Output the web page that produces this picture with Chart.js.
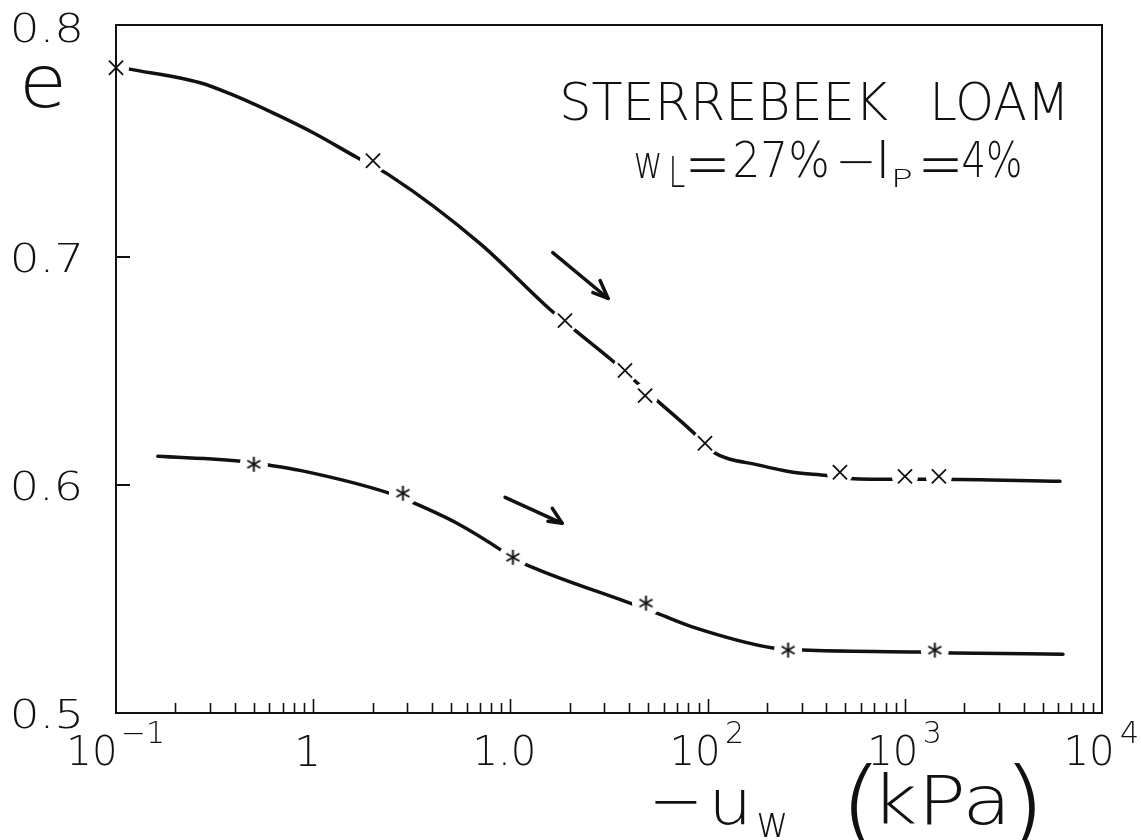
<!DOCTYPE html>
<html><head><meta charset="utf-8">
<script src="https://cdn.jsdelivr.net/npm/chart.js@4.4.1/dist/chart.umd.min.js"></script>
<style>html,body{margin:0;padding:0;background:#fff;}canvas{display:block;}</style>
</head><body>
<canvas id="c" width="1141" height="840"></canvas>
<script>
// ---- data ----
const upperCurveX = [0.115,0.267,0.378,0.625,1.0,1.67,2.45,7.02,15.9,21.3,32.7,45.4,55.3,84.3,105,185,271,403,527,925,1390,6120];
const upperCurveE = [0.7825,0.7764,0.7716,0.7632,0.7545,0.7436,0.7357,0.7059,0.6770,0.6678,0.6547,0.6437,0.6371,0.6231,0.6148,0.6086,0.6056,0.6042,0.6029,0.6025,0.6025,0.6016];
const upperMarkX = [0.1,2.01,18.9,38.1,48.2,97,469,1002,1489];
const upperMarkE = [0.783,0.7422,0.6721,0.6502,0.6392,0.6183,0.6056,0.6038,0.6038];

const lowerCurveX = [0.163,0.441,0.556,0.857,2.45,3.28,5.36,9.18,10.3,14.1,40.4,55.3,84.3,215,305,1194,1754,6340];
const lowerCurveE = [0.6126,0.6104,0.6091,0.6064,0.5963,0.5919,0.5832,0.5709,0.5679,0.5626,0.5482,0.5438,0.5377,0.5285,0.5276,0.5267,0.5263,0.5258];
const lowerMarkX = [0.50,2.85,10.3,48.7,256,1420];
const lowerMarkE = [0.6091,0.5964,0.5683,0.5482,0.5276,0.5276];

const arrow1X = [16.4,31.3];          const arrow1E = [0.7019,0.6818];
const arrow1HeadX = [28.5,31.3,26.2]; const arrow1HeadE = [0.6897,0.6818,0.6844];
const arrow2X = [9.40,18.3];          const arrow2E = [0.5946,0.5832];
const arrow2HeadX = [16.3,18.3,15.5]; const arrow2HeadE = [0.5898,0.5832,0.5841];

const xMin = 0.1, xMax = 10000, yMin = 0.5, yMax = 0.80175;
const xTickValues = [0.1,1,10,100,1000,10000];
const xTickBase = ['10','1','1.0','10','10','10'];
const xTickExp = ['\u22121','','','2','3','4'];
const yTickValues = [0.5,0.6,0.7,0.8];
const yTickLabels = ['0.5','0.6','0.7','0.8'];
const yInnerTicks = [0.6,0.7];
const yAxisTitle = 'e';
const xTitle = ['\u2212','u','w','(','kPa',')'];
const noteLine1 = ['STERREBEEK','LOAM'];
const noteLine2 = ['w','L','=','27%','\u2212','I','P','=','4%'];

// ---- helpers ----
const pts = (xs, ys) => xs.map((x, i) => ({x, y: ys[i]}));
const INK = '#111';
const F = '"DejaVu Sans", "Liberation Sans", sans-serif';
const WT = '200';

function asteriskImg(r, lw) {
  const c = document.createElement('canvas');
  const s = Math.ceil(2 * r + 4);
  c.width = s; c.height = s;
  const g = c.getContext('2d');
  g.strokeStyle = INK; g.lineWidth = lw; g.lineCap = 'butt';
  const cx = s / 2, cy = s / 2;
  [90, 30, 150].forEach(a => {
    const t = a * Math.PI / 180;
    g.beginPath();
    g.moveTo(cx - r * Math.cos(t), cy - r * Math.sin(t));
    g.lineTo(cx + r * Math.cos(t), cy + r * Math.sin(t));
    g.stroke();
  });
  return c;
}

function ink(ctx, s, size) {
  ctx.font = `${WT} ${size}px ${F}`;
  const m = ctx.measureText(s);
  return {l: m.actualBoundingBoxLeft, r: m.actualBoundingBoxRight, a: m.actualBoundingBoxAscent, d: m.actualBoundingBoxDescent};
}
function fitBox(ctx, s, x1, y1, x2, y2, size) {
  const m = ink(ctx, s, size);
  const sx = (x2 - x1) / (m.l + m.r), sy = (y2 - y1) / (m.a + m.d);
  ctx.save(); ctx.translate(x1 + m.l * sx, y1 + m.a * sy); ctx.scale(sx, sy);
  ctx.fillText(s, 0, 0); ctx.restore();
}
function fitH(ctx, s, x1, y1, y2, size) {
  const m = ink(ctx, s, size);
  const k = (y2 - y1) / (m.a + m.d);
  ctx.save(); ctx.translate(x1 + m.l * k, y1 + m.a * k); ctx.scale(k, k);
  ctx.fillText(s, 0, 0); ctx.restore();
  return (m.l + m.r) * k;
}
function widthH(ctx, s, y1, y2, size) {
  const m = ink(ctx, s, size);
  return (m.l + m.r) * (y2 - y1) / (m.a + m.d);
}
function fitWc(ctx, s, x1, x2, yc, size) {
  const m = ink(ctx, s, size);
  const k = (x2 - x1) / (m.l + m.r);
  ctx.save(); ctx.translate(x1 + m.l * k, yc + (m.a - m.d) / 2 * k); ctx.scale(k, k);
  ctx.fillText(s, 0, 0); ctx.restore();
}

const decor = {
  id: 'decor',
  beforeDraw(chart) {
    const c = chart.ctx; c.save(); c.fillStyle = '#fff'; c.fillRect(0, 0, chart.width, chart.height); c.restore();
  },
  afterDraw(chart) {
    const ctx = chart.ctx, a = chart.chartArea, xs = chart.scales.x, ys = chart.scales.y;
    ctx.save();
    ctx.strokeStyle = INK; ctx.fillStyle = INK; ctx.lineWidth = 2;
    ctx.strokeRect(a.left, a.top, a.right - a.left, a.bottom - a.top);
    // x ticks (inside, bottom)
    ctx.lineWidth = 1.6;
    for (let d = 0.1; d < xMax; d *= 10) {
      for (let k = 1; k <= 9; k++) {
        const v = k * d;
        if (v <= xMin * 1.0001 || v >= xMax * 0.9999) continue;
        const px = Math.round(xs.getPixelForValue(v)) + 0.5;
        const len = k === 1 ? 14 : 10;
        ctx.beginPath(); ctx.moveTo(px, a.bottom); ctx.lineTo(px, a.bottom - len); ctx.stroke();
      }
    }
    // y ticks (inside, left)
    ctx.lineWidth = 2;
    yInnerTicks.forEach(v => {
      const py = Math.round(ys.getPixelForValue(v));
      ctx.beginPath(); ctx.moveTo(a.left, py); ctx.lineTo(a.left + 14, py); ctx.stroke();
    });
    // y tick labels
    yTickLabels.forEach((s, i) => {
      const t = ys.getPixelForValue(yTickValues[i]);
      const dy = i === yTickLabels.length - 1 ? -2 : 0;
      fitBox(ctx, s, 13, t - 15 + dy, 80, t + 16 + dy, 42);
    });
    // y axis title
    fitBox(ctx, yAxisTitle, 25, 65, 62, 108, 78);
    // x tick labels
    xTickValues.forEach((v, i) => {
      const t = xs.getPixelForValue(v);
      const b = xTickBase[i], e = xTickExp[i];
      const wB = widthH(ctx, b, 734, 766, 44);
      const wS = e ? widthH(ctx, e, 721, 743, 30) : 0;
      const gap = e ? 10 : 0;
      const total = wB + gap + wS;
      const start = e ? t - total / 2 : t - 6 - total / 2;
      fitH(ctx, b, start, 734, 766, 44);
      if (e) fitH(ctx, e, start + wB + gap, 721, 743, 30);
    });
    // x axis title: −u_w (kPa)
    fitWc(ctx, xTitle[0], 655, 697, 802, 70);
    fitBox(ctx, xTitle[1], 715, 790, 745, 825, 64);
    fitBox(ctx, xTitle[2], 758, 813, 785, 837, 44);
    fitBox(ctx, xTitle[3], 850, 763, 872, 853, 100);
    fitBox(ctx, xTitle[4], 883, 772, 1003, 825, 73);
    fitBox(ctx, xTitle[5], 1013, 763, 1035, 853, 100);
    // annotation
    fitBox(ctx, noteLine1[0], 563, 82, 888, 122, 55);
    fitBox(ctx, noteLine1[1], 935, 82, 1062, 122, 55);
    fitBox(ctx, noteLine2[0], 635, 153, 660, 178, 46);
    fitBox(ctx, noteLine2[1], 672, 155, 685, 187, 44);
    fitBox(ctx, noteLine2[2], 690, 158, 725, 172, 53);
    fitBox(ctx, noteLine2[3], 735, 140, 827, 178, 53);
    fitWc(ctx, noteLine2[4], 840, 872, 162, 53);
    fitH(ctx, noteLine2[5], 881, 140, 178, 53);
    fitBox(ctx, noteLine2[6], 895, 168, 912, 187, 26);
    fitBox(ctx, noteLine2[7], 923, 158, 958, 172, 53);
    fitBox(ctx, noteLine2[8], 963, 140, 1020, 178, 53);
    ctx.restore();
  }
};

const star = asteriskImg(7.5, 2);
const lineDs = (data, lw) => ({data, showLine: true, pointRadius: 0, borderColor: INK, borderWidth: lw,
  cubicInterpolationMode: 'monotone', borderCapStyle: 'round', borderJoinStyle: 'round', fill: false});
const straight = ds => Object.assign(ds, {cubicInterpolationMode: 'default', tension: 0});

new Chart(document.getElementById('c'), {
  type: 'scatter',
  data: {
    datasets: [
      {data: pts(upperMarkX, upperMarkE), pointStyle: 'crossRot', pointRadius: 10, borderColor: INK, borderWidth: 1.8, clip: false, order: 0},
      {data: pts(lowerMarkX, lowerMarkE), pointStyle: star, pointRadius: 8, borderColor: INK, clip: false, order: 0},
      {data: pts(upperMarkX, upperMarkE), pointStyle: 'circle', pointRadius: 13, pointBackgroundColor: '#fff', backgroundColor: '#fff', pointBorderWidth: 0, borderWidth: 0, clip: false, order: 1},
      {data: pts(lowerMarkX, lowerMarkE), pointStyle: 'circle', pointRadius: 14, pointBackgroundColor: '#fff', backgroundColor: '#fff', pointBorderWidth: 0, borderWidth: 0, clip: false, order: 1},
      Object.assign(lineDs(pts(upperCurveX, upperCurveE), 3.5), {order: 2}),
      Object.assign(lineDs(pts(lowerCurveX, lowerCurveE), 3.5), {order: 2}),
      straight(lineDs(pts(arrow1X, arrow1E), 3.5)),
      straight(lineDs(pts(arrow1HeadX, arrow1HeadE), 3.5)),
      straight(lineDs(pts(arrow2X, arrow2E), 3.5)),
      straight(lineDs(pts(arrow2HeadX, arrow2HeadE), 3.5))
    ]
  },
  options: {
    responsive: false, animation: false, devicePixelRatio: 1,
    layout: {padding: {left: 116, top: 25, right: 39, bottom: 127}},
    plugins: {legend: {display: false}, tooltip: {enabled: false}},
    scales: {
      x: {type: 'logarithmic', min: xMin, max: xMax, display: false},
      y: {type: 'linear', min: yMin, max: yMax, display: false}
    }
  },
  plugins: [decor]
});
</script>
</body></html>
